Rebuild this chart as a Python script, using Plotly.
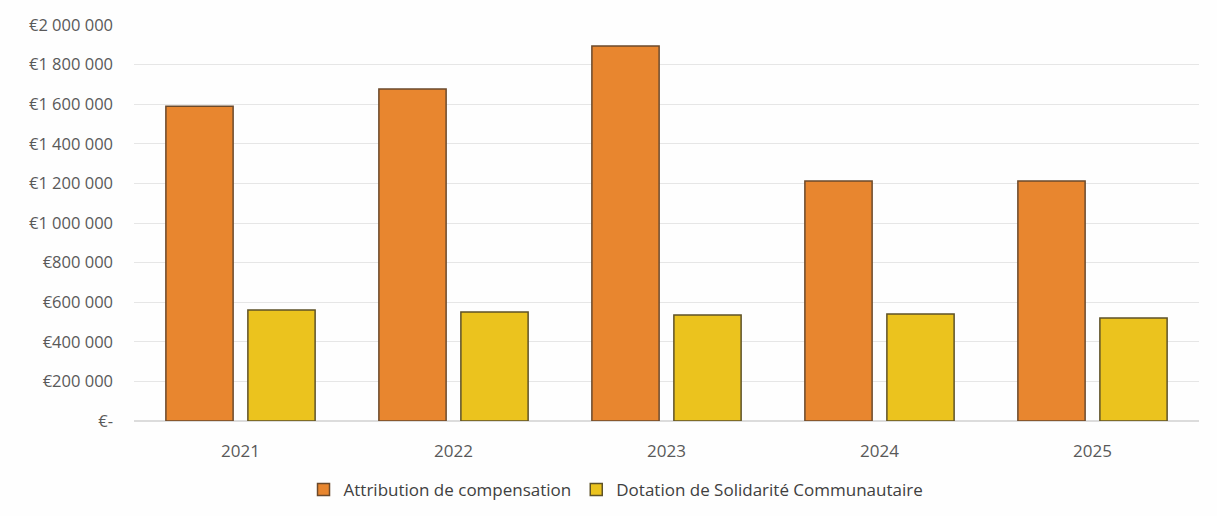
import plotly.graph_objects as go

years = ["2021", "2022", "2023", "2024", "2025"]
attribution = [1590000, 1677000, 1894000, 1212000, 1212000]
dotation = [561000, 551000, 535000, 540000, 520000]
tick_vals = [0, 200000, 400000, 600000, 800000, 1000000, 1200000, 1400000, 1600000, 1800000, 2000000]
tick_text = ["€-", "€200 000", "€400 000", "€600 000", "€800 000", "€1 000 000",
             "€1 200 000", "€1 400 000", "€1 600 000", "€1 800 000", "€2 000 000"]

fig = go.Figure()
fig.add_trace(go.Bar(
    x=years, y=attribution, name="Attribution de compensation",
    marker=dict(color="#E8862F", line=dict(color="#6b4a2c", width=1.5)),
))
fig.add_trace(go.Bar(
    x=years, y=dotation, name="Dotation de Solidarité Communautaire",
    marker=dict(color="#EBC31E", line=dict(color="#5e5228", width=1.5)),
))

fig.update_layout(
    width=1217, height=516,
    margin=dict(l=134, r=18, t=25, b=95, autoexpand=False),
    paper_bgcolor="#fefefe", plot_bgcolor="#fefefe",
    barmode="group", bargap=0.23, bargroupgap=0.18,
    font=dict(family="Open Sans", size=17, color="#595959"),
    xaxis=dict(showgrid=False, showline=False, ticks="", ticklabelstandoff=18, automargin=False,
               tickfont=dict(size=17, color="#595959")),
    yaxis=dict(range=[0, 2000000], tickvals=tick_vals, ticktext=tick_text, automargin=False,
               showgrid=True, gridcolor="#e6e6e6", gridwidth=1, zeroline=True,
               zerolinecolor="#dcdcdc", ticks="", ticklabelstandoff=20,
               tickfont=dict(size=16.5, color="#595959")),
    legend=dict(orientation="h", x=0.4526, xanchor="center", y=-0.174, yanchor="middle",
                font=dict(size=17, color="#404040"), itemwidth=30, traceorder="normal",
                bgcolor="rgba(0,0,0,0)"),
    showlegend=True,
)

fig.write_html("out.html")
